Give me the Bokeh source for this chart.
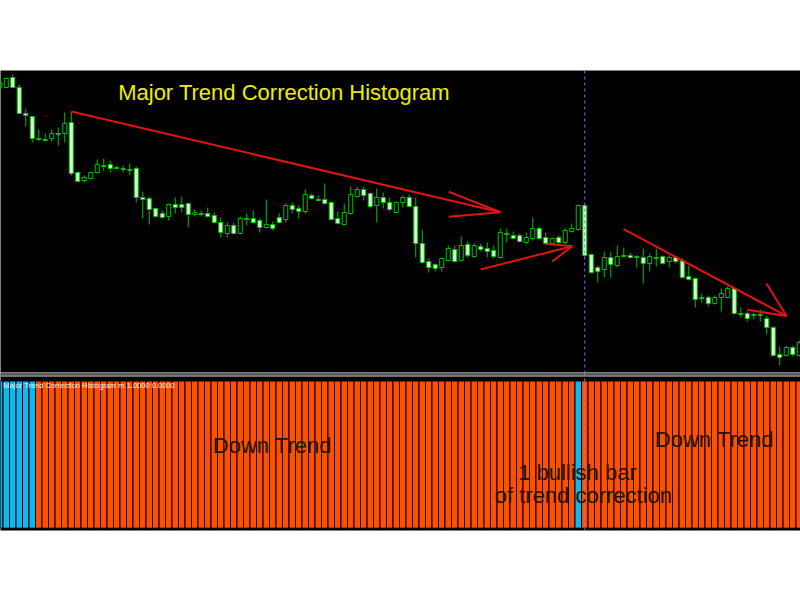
from bokeh.plotting import figure
from bokeh.models import ColumnDataSource, Range1d, Span, Label
from bokeh.layouts import column
from bokeh.embed import file_html
from bokeh.resources import INLINE

# ---------------- data ----------------
bar_index = list(range(-1, 123))

open_ = [
    1.3583, 1.3583, 1.3593, 1.3583, 1.3557, 1.3554, 1.3532, 1.3531, 1.3532, 1.3537,
    1.3537, 1.3548, 1.3498, 1.3490, 1.3492, 1.3498, 1.3505, 1.3506, 1.3503, 1.3502,
    1.3501, 1.3502, 1.3473, 1.3472, 1.3462, 1.3457, 1.3454, 1.3466, 1.3466, 1.3467,
    1.3456, 1.3457, 1.3457, 1.3455, 1.3448, 1.3437, 1.3445, 1.3437, 1.3452, 1.3452,
    1.3450, 1.3443, 1.3446, 1.3453, 1.3451, 1.3465, 1.3462, 1.3459, 1.3475, 1.3471,
    1.3471, 1.3468, 1.3452, 1.3446, 1.3457, 1.3474, 1.3481, 1.3477, 1.3465, 1.3473,
    1.3468, 1.3458, 1.3468, 1.3473, 1.3464, 1.3427, 1.3409, 1.3406, 1.3403, 1.3410,
    1.3421, 1.3410, 1.3426, 1.3414, 1.3424, 1.3422, 1.3420, 1.3413, 1.3437, 1.3435,
    1.3435, 1.3428, 1.3432, 1.3442, 1.3433, 1.3427, 1.3433, 1.3428, 1.3439, 1.3441,
    1.3465, 1.3416, 1.3403, 1.3401, 1.3413, 1.3405, 1.3415, 1.3415, 1.3414, 1.3413,
    1.3407, 1.3413, 1.3414, 1.3409, 1.3413, 1.3410, 1.3394, 1.3392, 1.3373, 1.3373,
    1.3367, 1.3373, 1.3373, 1.3382, 1.3357, 1.3357, 1.3356, 1.3356, 1.3352, 1.3343,
    1.3316, 1.3315, 1.3323, 1.3315,
]
high = [
    1.3589, 1.3593, 1.3596, 1.3586, 1.3562, 1.3554, 1.3541, 1.3537, 1.3541, 1.3543,
    1.3558, 1.3559, 1.3499, 1.3495, 1.3499, 1.3511, 1.3512, 1.3510, 1.3505, 1.3505,
    1.3507, 1.3504, 1.3479, 1.3474, 1.3463, 1.3460, 1.3467, 1.3473, 1.3474, 1.3468,
    1.3461, 1.3460, 1.3463, 1.3458, 1.3453, 1.3448, 1.3448, 1.3454, 1.3457, 1.3460,
    1.3452, 1.3471, 1.3449, 1.3457, 1.3467, 1.3468, 1.3465, 1.3481, 1.3477, 1.3475,
    1.3487, 1.3469, 1.3459, 1.3467, 1.3484, 1.3484, 1.3484, 1.3478, 1.3482, 1.3478,
    1.3473, 1.3469, 1.3475, 1.3476, 1.3473, 1.3441, 1.3412, 1.3407, 1.3413, 1.3425,
    1.3425, 1.3434, 1.3429, 1.3427, 1.3427, 1.3428, 1.3425, 1.3442, 1.3442, 1.3439,
    1.3437, 1.3438, 1.3453, 1.3444, 1.3438, 1.3433, 1.3435, 1.3442, 1.3447, 1.3466,
    1.3466, 1.3417, 1.3405, 1.3419, 1.3419, 1.3425, 1.3423, 1.3418, 1.3415, 1.3422,
    1.3417, 1.3422, 1.3415, 1.3415, 1.3414, 1.3412, 1.3405, 1.3393, 1.3377, 1.3375,
    1.3375, 1.3382, 1.3384, 1.3383, 1.3363, 1.3359, 1.3358, 1.3361, 1.3355, 1.3344,
    1.3324, 1.3325, 1.3325, 1.3330,
]
low = [
    1.3582, 1.3583, 1.3583, 1.3557, 1.3544, 1.3528, 1.3529, 1.3529, 1.3529, 1.3525,
    1.3528, 1.3495, 1.3488, 1.3488, 1.3491, 1.3497, 1.3500, 1.3498, 1.3501, 1.3498,
    1.3495, 1.3468, 1.3452, 1.3446, 1.3453, 1.3452, 1.3450, 1.3457, 1.3458, 1.3443,
    1.3454, 1.3454, 1.3453, 1.3447, 1.3433, 1.3433, 1.3436, 1.3436, 1.3445, 1.3447,
    1.3438, 1.3442, 1.3440, 1.3447, 1.3448, 1.3457, 1.3452, 1.3457, 1.3471, 1.3470,
    1.3466, 1.3450, 1.3446, 1.3445, 1.3456, 1.3473, 1.3470, 1.3462, 1.3448, 1.3462,
    1.3459, 1.3457, 1.3463, 1.3463, 1.3413, 1.3407, 1.3398, 1.3399, 1.3399, 1.3409,
    1.3408, 1.3409, 1.3413, 1.3413, 1.3419, 1.3413, 1.3412, 1.3412, 1.3428, 1.3431,
    1.3428, 1.3426, 1.3430, 1.3431, 1.3426, 1.3426, 1.3427, 1.3426, 1.3438, 1.3440,
    1.3414, 1.3397, 1.3388, 1.3393, 1.3393, 1.3403, 1.3413, 1.3412, 1.3403, 1.3387,
    1.3399, 1.3404, 1.3406, 1.3403, 1.3407, 1.3392, 1.3390, 1.3363, 1.3368, 1.3364,
    1.3366, 1.3359, 1.3372, 1.3356, 1.3353, 1.3349, 1.3351, 1.3349, 1.3336, 1.3314,
    1.3305, 1.3314, 1.3314, 1.3314,
]
close = [
    1.3588, 1.3592, 1.3583, 1.3557, 1.3555, 1.3532, 1.3531, 1.3530, 1.3537, 1.3536,
    1.3547, 1.3497, 1.3489, 1.3493, 1.3498, 1.3506, 1.3504, 1.3502, 1.3502, 1.3501,
    1.3500, 1.3473, 1.3471, 1.3461, 1.3454, 1.3453, 1.3466, 1.3463, 1.3463, 1.3456,
    1.3458, 1.3456, 1.3454, 1.3448, 1.3438, 1.3445, 1.3437, 1.3452, 1.3451, 1.3448,
    1.3443, 1.3446, 1.3442, 1.3448, 1.3465, 1.3461, 1.3459, 1.3476, 1.3472, 1.3470,
    1.3467, 1.3451, 1.3447, 1.3458, 1.3476, 1.3481, 1.3475, 1.3464, 1.3473, 1.3468,
    1.3461, 1.3468, 1.3473, 1.3464, 1.3427, 1.3408, 1.3403, 1.3402, 1.3412, 1.3422,
    1.3409, 1.3425, 1.3415, 1.3425, 1.3421, 1.3419, 1.3414, 1.3438, 1.3436, 1.3432,
    1.3429, 1.3433, 1.3442, 1.3432, 1.3427, 1.3432, 1.3428, 1.3440, 1.3442, 1.3465,
    1.3415, 1.3398, 1.3399, 1.3413, 1.3406, 1.3414, 1.3414, 1.3413, 1.3413, 1.3407,
    1.3414, 1.3412, 1.3407, 1.3413, 1.3409, 1.3393, 1.3391, 1.3371, 1.3372, 1.3367,
    1.3373, 1.3377, 1.3382, 1.3357, 1.3356, 1.3352, 1.3355, 1.3355, 1.3343, 1.3315,
    1.3313, 1.3323, 1.3316, 1.3328,
]

# histogram buffers (1 = bar drawn in that buffer)
hist_up = [
    1, 1, 1, 1, 1, 1, 0, 0, 0, 0, 0, 0, 0, 0, 0, 0, 0, 0, 0, 0,
    0, 0, 0, 0, 0, 0, 0, 0, 0, 0, 0, 0, 0, 0, 0, 0, 0, 0, 0, 0,
    0, 0, 0, 0, 0, 0, 0, 0, 0, 0, 0, 0, 0, 0, 0, 0, 0, 0, 0, 0,
    0, 0, 0, 0, 0, 0, 0, 0, 0, 0, 0, 0, 0, 0, 0, 0, 0, 0, 0, 0,
    0, 0, 0, 0, 0, 0, 0, 0, 0, 1, 0, 0, 0, 0, 0, 0, 0, 0, 0, 0,
    0, 0, 0, 0, 0, 0, 0, 0, 0, 0, 0, 0, 0, 0, 0, 0, 0, 0, 0, 0,
    0, 0, 0, 0,
]
hist_down = [
    0, 0, 0, 0, 0, 0, 1, 1, 1, 1, 1, 1, 1, 1, 1, 1, 1, 1, 1, 1,
    1, 1, 1, 1, 1, 1, 1, 1, 1, 1, 1, 1, 1, 1, 1, 1, 1, 1, 1, 1,
    1, 1, 1, 1, 1, 1, 1, 1, 1, 1, 1, 1, 1, 1, 1, 1, 1, 1, 1, 1,
    1, 1, 1, 1, 1, 1, 1, 1, 1, 1, 1, 1, 1, 1, 1, 1, 1, 1, 1, 1,
    1, 1, 1, 1, 1, 1, 1, 1, 1, 0, 1, 1, 1, 1, 1, 1, 1, 1, 1, 1,
    1, 1, 1, 1, 1, 1, 1, 1, 1, 1, 1, 1, 1, 1, 1, 1, 1, 1, 1, 1,
    1, 1, 1, 1,
]

correction_bar = 89  # bar marked by the vertical dashed line

# trend arrows drawn on the chart (bar index, price)
arrow_shafts_x = [[10.0, 76.04], [72.96, 87.07], [94.96, 120.04]]
arrow_shafts_y = [[1.3559, 1.34583], [1.3401, 1.34243], [1.34413, 1.33545]]
arrow_heads_x = [[68.08, 76.04, 68.08], [82.96, 87.07, 83.99], [116.96, 120.04, 114.0]]
arrow_heads_y = [[1.34787, 1.34583, 1.34537], [1.34267, 1.34243, 1.3409], [1.3387, 1.33545, 1.33607]]

# ---------------- styling ----------------
WICK = "#00c000"
BEAR_FILL = "#d6ffd6"
UP_COL = "#12b6ee"
DOWN_COL = "#ff5000"
FONT = "Liberation Sans"

bull = [c >= o for o, c in zip(open_, close)]
src = ColumnDataSource(dict(
    x=bar_index, high=high, low=low,
    top=[max(o, c) for o, c in zip(open_, close)],
    bottom=[min(o, c) for o, c in zip(open_, close)],
    fill=["#000000" if b else BEAR_FILL for b in bull],
))

hist_src = ColumnDataSource(dict(
    x=bar_index,
    top=[max(u, d) for u, d in zip(hist_up, hist_down)],
    color=[UP_COL if u else DOWN_COL for u in hist_up],
))

xr = Range1d(-0.885, 122.19)

common = dict(width=800, output_backend="svg", toolbar_location=None,
              x_axis_location=None, y_axis_location=None, title=None,
              min_border_left=0, min_border_right=0,
              background_fill_color="black", border_fill_color="white",
              outline_line_color=None, x_range=xr)

p1 = figure(height=372, y_range=Range1d(1.3298, 1.3600),
            min_border_top=70, min_border_bottom=0, **common)
p1.grid.visible = False

p1.segment(x0="x", y0="high", x1="x", y1="low", source=src,
           line_color=WICK, line_width=1)
p1.vbar(x="x", top="top", bottom="bottom", width=0.62, source=src,
        fill_color="fill", line_color=WICK, line_width=1)

p1.multi_line(xs=arrow_shafts_x, ys=arrow_shafts_y, line_color="#e01414", line_width=2)
p1.multi_line(xs=arrow_heads_x, ys=arrow_heads_y, line_color="#e01414", line_width=2)

p1.add_layout(Span(location=correction_bar, dimension="height", line_color="#8a66ff",
                   line_dash="3 3", line_width=1))
p1.add_layout(Label(x=17.22, y=1.35776, text="Major Trend Correction Histogram",
                    text_font=FONT, text_font_size="22px", text_color="#eeee00",
                    text_baseline="alphabetic", text_align="left"))

p2 = figure(height=228, y_range=Range1d(-0.01562, 1.05774),
            min_border_top=0, min_border_bottom=70, **common)
p2.grid.visible = False
p2.vbar(x="x", top="top", bottom=0, width=1.0, source=hist_src,
        fill_color="color", line_color="black", line_width=1)

p2.add_layout(Span(location=1.0476, dimension="width", line_color="#b4b4b4", line_width=1))
p2.add_layout(Span(location=1.034, dimension="width", line_color="#e4e4e4", line_width=1))
p2.add_layout(Span(location=correction_bar, dimension="height", line_color="#a070ff",
                   line_dash="3 3", line_width=1))

p2.add_layout(Label(x=-0.45, y=0.969, text="Major Trend Correction Histogram m 1.0000 0.0000",
                    text_font=FONT, text_font_size="7.5px", text_color="#f0f0f0",
                    text_baseline="alphabetic"))

TXT = "#2a1000"
for tx, ty, t in [(31.78, 0.5652, "Down Trend"), (99.78, 0.5992, "Down Trend"),
                  (78.75, 0.3784, "1 bullish bar"), (75.15, 0.2222, "of trend correction")]:
    p2.add_layout(Label(x=tx, y=ty, text=t, text_font=FONT, text_font_size="22px",
                        text_color=TXT, text_baseline="alphabetic", text_align="left"))

layout = column(p1, p2, spacing=0)
open("out.html", "w").write(file_html(layout, INLINE))
